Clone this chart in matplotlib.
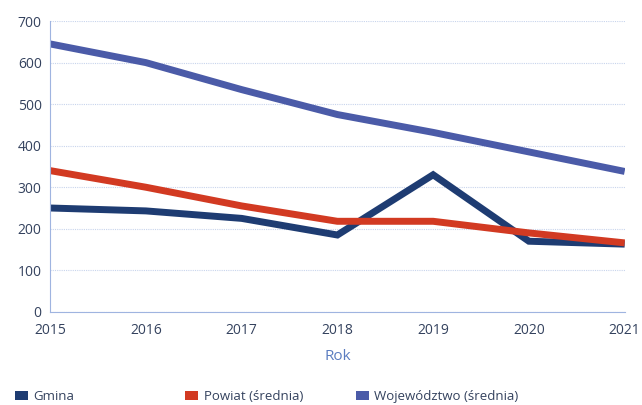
import matplotlib
matplotlib.use("Agg")
import matplotlib.pyplot as plt
from matplotlib.patches import Patch

plt.rcParams["font.family"] = ["Open Sans", "DejaVu Sans"]

# ── data ──────────────────────────────────────────────────────────────────────
years = [2015, 2016, 2017, 2018, 2019, 2020, 2021]
gmina = [250, 243, 225, 185, 330, 170, 163]
powiat = [340, 300, 255, 218, 218, 190, 166]
wojewodztwo = [645, 600, 535, 475, 432, 385, 338]

series_labels = ["Gmina", "Powiat (średnia)", "Województwo (średnia)"]
colors = ["#1e3c72", "#d23a22", "#4b5ba8"]
yticks = [0, 100, 200, 300, 400, 500, 600, 700]

# ── figure ────────────────────────────────────────────────────────────────────
fig = plt.figure(figsize=(6.42, 4.05), dpi=100)
ax = fig.add_axes([0.078, 0.230, 0.895, 0.718])

for vals, col in zip([gmina, powiat, wojewodztwo], colors):
    ax.plot(years, vals, color=col, linewidth=5, solid_joinstyle="miter",
            solid_capstyle="butt")

ax.set_xlim(2015, 2021)
ax.set_ylim(0, 700)
ax.set_yticks(yticks)
ax.set_xticks(years)
ax.yaxis.grid(True, color="#c8d4ec", linestyle=(0, (1, 1)), linewidth=0.8)
ax.set_axisbelow(True)

for s in ["top", "right"]:
    ax.spines[s].set_visible(False)
ax.spines["left"].set_color("#9fb4e0")
ax.spines["bottom"].set_color("#9fb4e0")
ax.spines["bottom"].set_linestyle((0, (2, 1)))
ax.tick_params(length=0, labelsize=10, labelcolor="#34425e")
ax.tick_params(axis="x", pad=8)
ax.tick_params(axis="y", pad=6)

ax.set_xlabel("Rok", color="#5a7cc0", fontsize=11, labelpad=8)

# legend: one entry per column, placed like the original
legend_x = [0.005, 0.27, 0.536]
for c, lab, lx in zip(colors, series_labels, legend_x):
    fig.legend([Patch(facecolor=c, edgecolor="none")], [lab], loc="lower left",
               bbox_to_anchor=(lx, -0.025), frameon=False, fontsize=9.5,
               handlelength=1.0, handleheight=0.6, handletextpad=0.4,
               labelcolor="#34425e")

fig.savefig("out.png", dpi=100)
